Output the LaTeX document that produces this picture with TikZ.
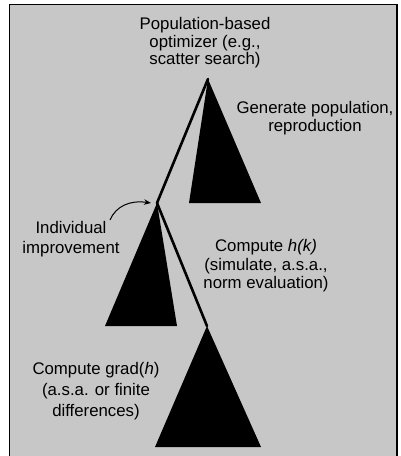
\documentclass[tikz,border=0pt]{standalone}
\usepackage{fontspec}
\setmainfont{Liberation Sans}
\usetikzlibrary{arrows.meta}
\definecolor{panelgray}{RGB}{199,199,199}
\tikzset{every picture/.style={line width=0.75pt}}
\tikzset{
  lbl/.style={align=center,inner sep=0.75pt,font=\fontsize{16.8}{17.5}\selectfont},
  cone/.style={fill=black,draw=none},
  stem/.style={line width=2.6pt,line cap=round}
}
\begin{document}
\begin{tikzpicture}[x=1pt,y=1pt,yscale=-1,xscale=1]
\useasboundingbox (0,0) rectangle (400,456);
%Shape: Rectangle [id:panel]
\fill [panelgray] (9.5,4.5) rectangle (397,456) ;
\draw [line width=1.5pt] (9.5,456) -- (9.5,4.5) -- (397,4.5) -- (397,456) ;
% Apex points
\coordinate (popTop) at (208,79) ;
\coordinate (indTop) at (157,203) ;
\coordinate (hkTop) at (207,326) ;
%Shape: Triangle [id:gen]
\fill [cone] (popTop) -- (261,203) -- (189,203) -- cycle ;
%Shape: Triangle [id:ind]
\fill [cone] (indTop) -- (177,326) -- (105,326) -- cycle ;
%Shape: Triangle [id:grad]
\fill [cone] (hkTop) -- (261,447) -- (155,447) -- cycle ;
%Straight Lines [id:stem1]
\draw [stem] (popTop) -- (indTop) ;
%Straight Lines [id:stem2]
\draw [stem] (indTop) -- (hkTop) ;
% Text Node
\node (popTxt) [lbl] at (205,43) {Population-based\\optimizer (e.g.,\\scatter search)};
% Text Node
\node (genTxt) [lbl] at (315,118) {Generate population,\\reproduction};
% Text Node
\node (indTxt) [lbl,font=\fontsize{16.8}{20.5}\selectfont] at (71,239) {Individual\\improvement};
% Text Node
\node (hkTxt) [lbl,font=\fontsize{16.8}{18.5}\selectfont] at (266,266) {Compute \textit{h(k)}\\(simulate, a.s.a.,\\norm evaluation)};
% Text Node
\node (gradTxt) [lbl,font=\fontsize{16.8}{21}\selectfont] at (96,391) {Compute grad(\textit{h})\\(a.s.a. or finite\\differences)};
%Curve Lines [id:arrow]
\coordinate (arrStart) at (110,220) ;
\draw [line width=1pt,-{Stealth[length=7pt,width=5.5pt]}] (arrStart) .. controls (116,206) and (130,200) .. ([xshift=-6pt]indTop) ;
\end{tikzpicture}
\end{document}
